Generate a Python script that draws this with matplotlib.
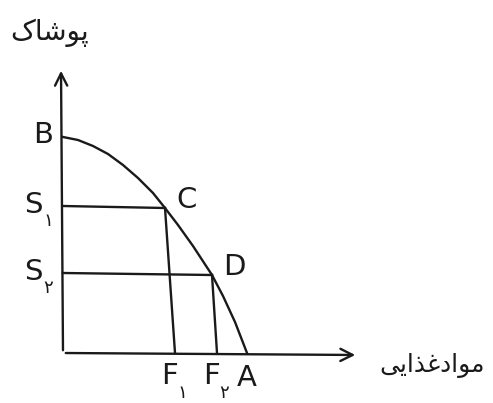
import matplotlib
matplotlib.use("Agg")
import matplotlib.pyplot as plt

plt.rcParams['font.family'] = ['DejaVu Sans']

# production possibility curve (food on x, clothing on y)
curve_x = [0, 15, 30, 45, 60, 75, 90, 102, 115, 130, 149, 160, 172, 184]
curve_y = [216, 213, 207, 199, 188, 175, 160, 145, 128, 107, 78, 57, 31, 0]

point_names = ['C', 'D']
point_x = [102, 149]
point_y = [145, 78]
# feet of the hand-drawn verticals on the food axis
foot_x = [112, 154]

y_labels = ['S', 'S']
y_subs = ['\u06f1', '\u06f2']
x_labels = ['F', 'F']
x_subs = ['\u06f1', '\u06f2']

# Persian titles in presentation forms, visual order (no shaping engine in matplotlib)
y_title = '\uFB8E\uFE8E\uFEB7\uFEEE\uFB58'                      # پوشاک
x_title = '\uFBFD\uFBFE\uFE8D\uFEAC\uFECF\uFEA9\uFE8D\uFEEE\uFEE3'  # موادغذایی

fig = plt.figure(figsize=(4.93, 4.03), dpi=100)
ax = fig.add_axes([0, 0, 1, 1])
ax.set_xlim(-63, 430)
ax.set_ylim(-50, 353)
ax.set_axis_off()

lw = 1.7
ink = '#1a1a1a'

# axes with open arrow heads
ax.annotate('', xy=(295, -2), xytext=(0, 0),
            arrowprops=dict(arrowstyle='->', lw=lw, color=ink, mutation_scale=22))
ax.annotate('', xy=(-2, 285), xytext=(0, 0),
            arrowprops=dict(arrowstyle='->', lw=lw, color=ink, mutation_scale=22))

ax.plot(curve_x, curve_y, color=ink, lw=lw, solid_joinstyle='round')

for px, py, fx in zip(point_x, point_y, foot_x):
    ax.plot([0, px], [py + 2, py], color=ink, lw=lw)
    ax.plot([px, fx], [py, 0], color=ink, lw=lw)

fs = 21
ax.text(-20, 218, 'B', fontsize=fs, ha='center', va='center', color=ink)
ax.text(184, -25, 'A', fontsize=fs, ha='center', va='center', color=ink)
for name, px, py in zip(point_names, point_x, point_y):
    ax.text(px + 22, py + 8, name, fontsize=fs, ha='center', va='center', color=ink)

for lab, sub, py in zip(y_labels, y_subs, point_y):
    ax.text(-30, py + 3, lab, fontsize=fs, ha='center', va='center', color=ink)
    ax.text(-15, py - 13, sub, fontsize=13, ha='center', va='center', color=ink)

for lab, sub, fx in zip(x_labels, x_subs, foot_x):
    ax.text(fx - 5, -23, lab, fontsize=fs, ha='center', va='center', color=ink)
    ax.text(fx + 7, -40, sub, fontsize=13, ha='center', va='center', color=ink)

ax.text(-13, 320, y_title, fontsize=20, ha='center', va='center', color=ink)
ax.text(369, -12, x_title, fontsize=18, ha='center', va='center', color=ink)

fig.savefig('out.png', dpi=100, facecolor='white')
